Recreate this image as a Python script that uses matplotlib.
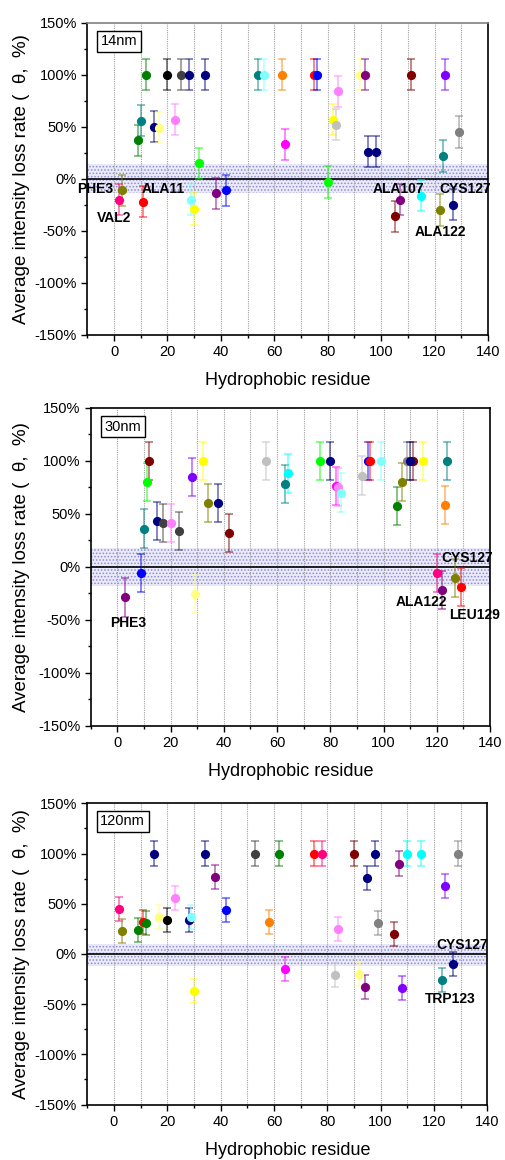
import matplotlib
matplotlib.use("Agg")
import matplotlib.pyplot as plt
from matplotlib.ticker import MultipleLocator, FuncFormatter
from matplotlib.colors import to_rgba

plt.rcParams['font.family'] = ['Liberation Sans', 'DejaVu Sans']
plt.rcParams['hatch.linewidth'] = 0.7

# ---------------- data ----------------
# Panel 14nm
x14 = [2, 3, 9, 10, 11, 12, 15, 17, 20, 23, 25, 28, 29, 30, 32, 34, 38, 42, 54, 56,
       63, 64, 75, 76, 80, 82, 83, 84, 92, 94, 95, 98, 105, 107, 111, 115, 122, 123, 124, 127, 129]
y14 = [-20, -11, 37, 56, -22, 100, 50, 49, 100, 57, 100, 100, -20, -29, 15, 100, -14, -11, 100, 100,
       100, 33, 100, 100, -3, 57, 52, 84, 100, 100, 26, 26, -36, -20, 100, -16, -30, 22, 100, -25, 45]
c14 = ['#FF0080', '#808000', '#008000', '#008080', '#FF0000', '#008000', '#000080', '#FFFF80',
       '#000000', '#FF80FF', '#404040', '#000080', '#80FFFF', '#FFFF00', '#00FF00', '#000080',
       '#800080', '#0000FF', '#008080', '#80FFFF', '#FF8000', '#FF00FF', '#FF0000', '#0000FF',
       '#00FF00', '#FFFF00', '#C0C0C0', '#FF80FF', '#FFFF80', '#800080', '#000080', '#000080',
       '#800000', '#800080', '#800000', '#00FFFF', '#808000', '#008080', '#8000FF', '#000080', '#808080']
err14 = 15
band14 = (-14, 14)
lab14 = ['PHE3', 'VAL2', 'ALA11', 'ALA107', 'CYS127', 'ALA122']

# Panel 30nm
x30 = [3, 9, 10, 11, 12, 15, 17, 20, 23, 28, 29, 32, 34, 38, 42, 56, 63, 64, 76, 80,
       82, 83, 84, 92, 94, 95, 99, 105, 107, 109, 111, 110, 115, 120, 122, 123, 124, 127, 129]
y30 = [-29, -6, 36, 80, 100, 43, 41, 41, 34, 85, -26, 100, 60, 60, 32, 100, 78, 88, 100, 100,
       76, 75, 70, 86, 100, 100, 100, 57, 80, 100, 100, 100, 100, -6, -22, 58, 100, -11, -19]
c30 = ['#800080', '#0000FF', '#008080', '#00FF00', '#800000', '#000080', '#404040', '#FF80FF',
       '#404040', '#8000FF', '#FFFF80', '#FFFF00', '#808000', '#000080', '#800000', '#C0C0C0',
       '#008080', '#00FFFF', '#00FF00', '#000080', '#FF00FF', '#FF80FF', '#80FFFF', '#C0C0C0',
       '#0000FF', '#FF0000', '#80FFFF', '#008000', '#808000', '#808080', '#800000', '#000080',
       '#FFFF00', '#FF0080', '#800080', '#FF8000', '#008080', '#808000', '#FF0000']
err30 = 18
band30 = (-18, 18)
lab30 = ['PHE3', 'CYS127', 'ALA122', 'LEU129']

# Panel 120nm
x120 = [2, 3, 9, 11, 12, 15, 17, 20, 23, 28, 29, 30, 34, 38, 42, 53, 58, 62, 64, 75,
        78, 83, 84, 90, 92, 94, 95, 98, 99, 105, 107, 108, 110, 115, 123, 124, 127, 129]
y120 = [45, 23, 24, 32, 31, 100, 37, 34, 56, 34, 37, -37, 100, 77, 44, 100, 32, 100, -15, 100,
        100, -21, 25, 100, -20, -33, 76, 100, 31, 20, 90, -34, 100, 100, -26, 68, -10, 100]
c120 = ['#FF0080', '#808000', '#008000', '#FF0000', '#008000', '#000080', '#FFFF80', '#000000',
        '#FF80FF', '#000080', '#80FFFF', '#FFFF00', '#000080', '#800080', '#0000FF', '#404040',
        '#FF8000', '#008000', '#FF00FF', '#FF0000', '#FF0080', '#C0C0C0', '#FF80FF', '#800000',
        '#FFFF80', '#800080', '#000080', '#000080', '#808080', '#800000', '#800080', '#8000FF',
        '#00FFFF', '#00FFFF', '#008080', '#8000FF', '#000080', '#808080']
err120 = 12
band120 = (-12, 10)
lab120 = ['CYS127', 'TRP123']

# ---------------- figure ----------------
fig = plt.figure(figsize=(5.05, 11.6), dpi=100)
W, H = 505, 1160

def axes_px(l, t, r, b):
    return fig.add_axes([l / W, 1 - b / H, (r - l) / W, (b - t) / H])

panels = [
    dict(rect=(87.3, 22.7, 488, 335), x=x14, y=y14, c=c14, err=err14, band=band14, tag='14nm',
         labels=lab14,
         lpos=[(-0.3, -9.6, 'right'), (-6.4, -37.5, 'left'), (10.5, -9.6, 'left'),
               (96.7, -9.6, 'left'), (121.9, -9.6, 'left'), (112.5, -51, 'left')]),
    dict(rect=(90.7, 407.7, 490, 725.7), x=x30, y=y30, c=c30, err=err30, band=band30, tag='30nm',
         labels=lab30,
         lpos=[(-2.75, -52.8, 'left'), (121.9, 8.5, 'left'), (104.7, -33, 'left'),
               (124.6, -45.6, 'left')]),
    dict(rect=(87.3, 803.3, 487.3, 1104.5), x=x120, y=y120, c=c120, err=err120, band=band120,
         tag='120nm', labels=lab120,
         lpos=[(121, 9, 'left'), (116.6, -44.8, 'left')]),
]

for i, p in enumerate(panels):
    l, t, r, b = p['rect']
    ax = axes_px(l, t, r, b)
    ax.set_xlim(-10, 140)
    ax.set_ylim(-150, 150)
    lo, hi = p['band']
    ax.axhspan(lo, hi, facecolor='#eaeaf8', edgecolor='#8c8cd4', hatch='.....',
               linewidth=0, zorder=0)
    for xv in range(0, 140, 10):
        ax.axvline(xv, color='#a0a0a0', ls=(0, (1, 1)), lw=0.8, zorder=0.5)
    ax.axhline(0, color='black', lw=1.2, zorder=1)
    for xv, yv, cv in zip(p['x'], p['y'], p['c']):
        ax.errorbar(xv, yv, yerr=p['err'], fmt='o', color=cv, ecolor=to_rgba(cv, 0.6),
                    ms=5.6, capsize=2.6, elinewidth=1.1, capthick=1.1, zorder=3)
    for name, (lx, ly, ha) in zip(p['labels'], p['lpos']):
        ax.text(lx, ly, name, fontsize=10, fontweight='bold', ha=ha, va='center', zorder=5)
    ax.text(0.08 if i < 2 else 0.0885, 0.94, p['tag'], transform=ax.transAxes, fontsize=10.5,
            ha='center', va='center', zorder=6,
            bbox=dict(boxstyle='square,pad=0.25', facecolor='white', edgecolor='black', lw=1))
    ax.xaxis.set_major_locator(MultipleLocator(20))
    ax.xaxis.set_minor_locator(MultipleLocator(10))
    ax.yaxis.set_major_locator(MultipleLocator(50))
    ax.yaxis.set_minor_locator(MultipleLocator(25))
    ax.yaxis.set_major_formatter(FuncFormatter(lambda v, pos: f"{int(round(v))}%"))
    ax.tick_params(which='major', direction='out', length=4, width=1, labelsize=10.5,
                   top=False, right=False)
    ax.tick_params(which='minor', direction='out', length=2.5, width=1, top=False, right=False)
    for s in ax.spines.values():
        s.set_linewidth(1.2)
    if i == 0:
        ax.spines['top'].set_color('#808080')
    hpx = b - t
    wpx = r - l
    ax.set_xlabel('Hydrophobic residue', fontsize=13, va='center')
    ax.xaxis.set_label_coords(0.5, -46 / hpx)
    ax.set_ylabel('Average intensity loss rate (  θ,  %)', fontsize=13.5, va='center')
    ax.yaxis.set_label_coords(-(l - 22) / wpx, 0.5)

fig.savefig('out.png', dpi=100)
